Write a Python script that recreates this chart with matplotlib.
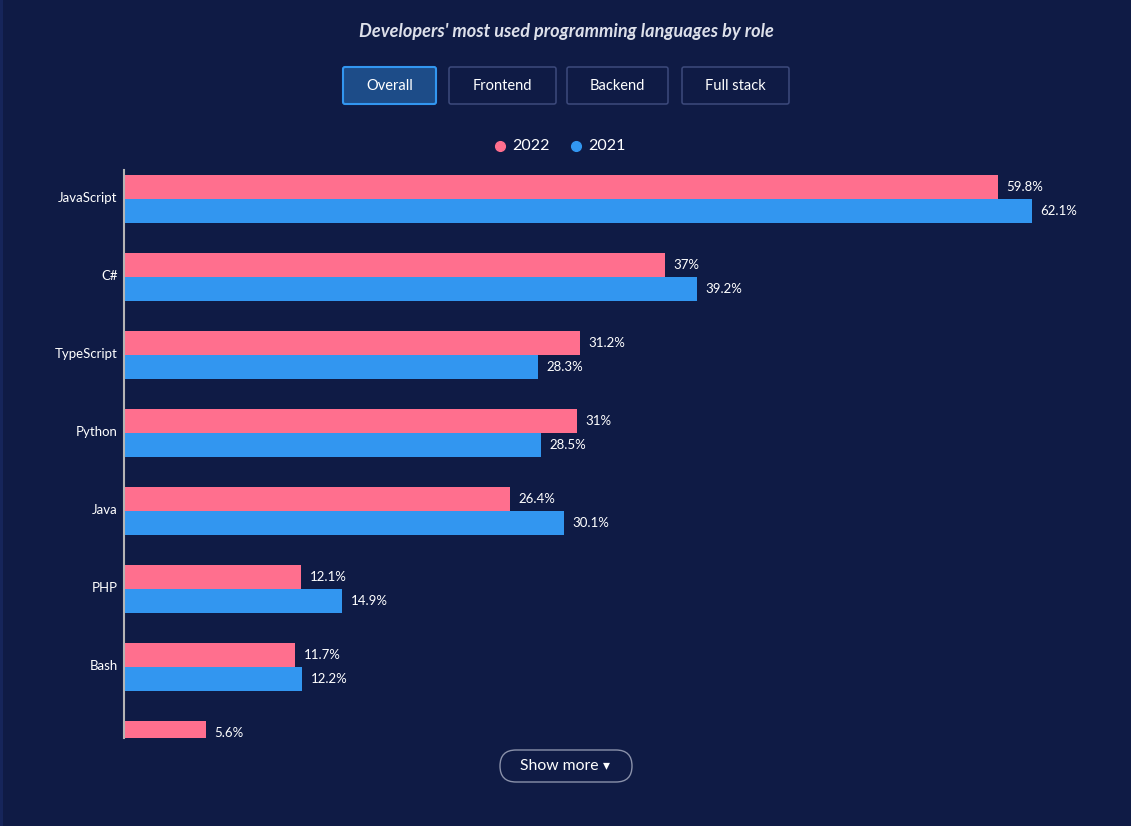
import numpy as np
import matplotlib.pyplot as plt
from matplotlib.patches import FancyBboxPatch, Rectangle

plt.rcParams['font.family'] = ['Lato', 'DejaVu Sans']

# languages, share of developers (%) per year
languages = ['JavaScript', 'C#', 'TypeScript', 'Python', 'Java', 'PHP', 'Bash', 'Go']
share_2022 = [59.8, 37, 31.2, 31, 26.4, 12.1, 11.7, 5.6]
share_2021 = [62.1, 39.2, 28.3, 28.5, 30.1, 14.9, 12.2, 6.0]
roles = ['Overall', 'Frontend', 'Backend', 'Full stack']

bg = '#0f1b45'
pink = '#ff6f8e'
blue = '#3296f0'

W, H = 1131, 826
fig = plt.figure(figsize=(W / 100, H / 100), dpi=100, facecolor=bg)

# overlay in pixel coordinates for the page furniture
ov = fig.add_axes([0, 0, 1, 1])
ov.set_xlim(0, W)
ov.set_ylim(H, 0)
ov.axis('off')
ov.set_facecolor(bg)
ov.add_patch(Rectangle((0, 0), 3, H, color='#16255a', lw=0))

ov.text(566, 32, "Developers' most used programming languages by role", color='#dde0ea',
        fontsize=13.1, fontstyle='italic', fontweight='bold', ha='center', va='center')

btn_x = [343, 449, 567, 682]
btn_w = [93, 107, 101, 107]
for i, r in enumerate(roles):
    active = i == 0
    ov.add_patch(FancyBboxPatch((btn_x[i], 67), btn_w[i], 37,
                                boxstyle='round,pad=0,rounding_size=2',
                                fc='#1d4c88' if active else bg,
                                ec=blue if active else '#3d4a7c', lw=1.5 if active else 1.1))
    ov.text(btn_x[i] + btn_w[i] / 2, 86, r, color='white', fontsize=10.5,
            ha='center', va='center')

ov.plot([500], [146], 'o', color=pink, ms=7)
ov.text(512, 146, '2022', color='white', fontsize=11.5, va='center')
ov.plot([576], [146], 'o', color=blue, ms=7)
ov.text(588, 146, '2021', color='white', fontsize=11.5, va='center')

ov.add_patch(FancyBboxPatch((500, 750), 132, 32, boxstyle='round,pad=0,rounding_size=16',
                            fc=bg, ec='#8a91aa', lw=1))
ov.text(559, 766, 'Show more', color='white', fontsize=11.3, ha='center', va='center')
ov.text(606, 765, '\u25be', color='white', fontsize=10, ha='center', va='center',
        family='DejaVu Sans')

# bar chart
px_per_pct = 14.615
ax = fig.add_axes([124 / W, 1 - 738 / H, 1 - 124 / W, (738 - 170) / H])
ax.set_facecolor('none')
ax.set_xlim(0, (W - 124) / px_per_pct)
ax.set_ylim((738 - 199) / 78, -29 / 78)

y = np.arange(len(languages))
h = 24 / 78
ax.barh(y - h / 2, share_2022, height=h, color=pink)
ax.barh(y + h / 2, share_2021, height=h, color=blue)

for yi, v in zip(y, share_2022):
    ax.text(v + 0.6, yi - h / 2, f'{v:g}%', color='white', fontsize=9.5,
            va='center', clip_on=True)
for yi, v in zip(y, share_2021):
    ax.text(v + 0.6, yi + h / 2, f'{v:g}%', color='white', fontsize=9.5,
            va='center', clip_on=True)

ax.set_yticks(y[:-1] - 0.03)
ax.set_yticklabels(languages[:-1], color='white', fontsize=9.5)
ax.tick_params(axis='y', length=0, pad=4.5)
ax.set_xticks([])
for s in ['top', 'right', 'bottom']:
    ax.spines[s].set_visible(False)
ax.spines['left'].set_color('#b4b4b4')
ax.spines['left'].set_linewidth(1.5)

fig.savefig('out.png', dpi=100, facecolor=bg)
